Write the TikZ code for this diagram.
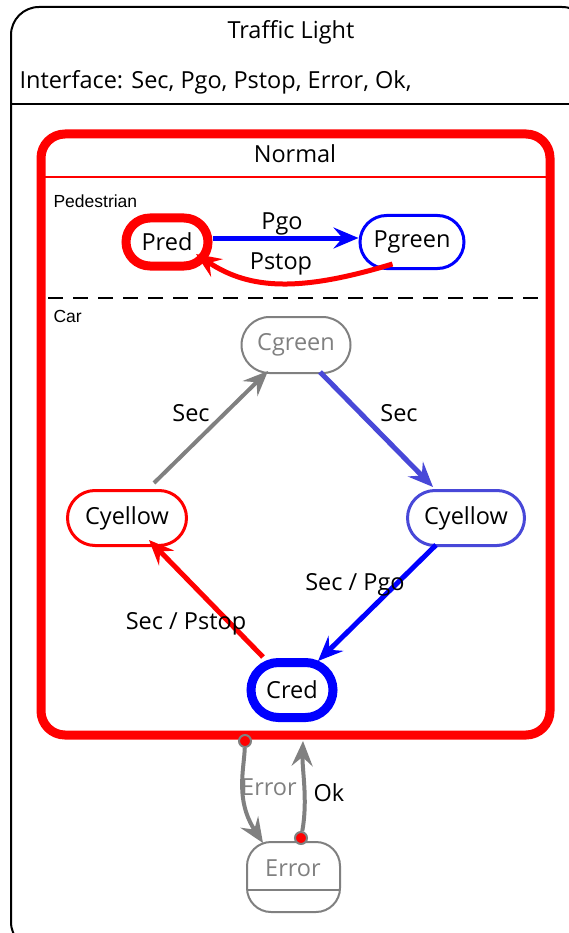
\documentclass[tikz,border=0pt]{standalone}
\usepackage{fontspec}
\setmainfont{Open Sans}
\newfontfamily\smallsans{Liberation Sans}
\usetikzlibrary{arrows.meta,shapes.misc}
\definecolor{redc}{RGB}{255,0,0}
\definecolor{bluec}{RGB}{0,0,255}
\definecolor{softblue}{RGB}{72,72,216}
\definecolor{grayc}{RGB}{128,128,128}
\tikzset{
  state/.style={rounded rectangle, draw, minimum height=50pt, inner xsep=4pt,
    font=\fontsize{23.5}{26}\selectfont, text=black, fill=white},
  trans/.style={-{Stealth[length=25pt,width=21pt,inset=9pt]}, line width=5pt},
  lbl/.style={font=\fontsize{23.5}{26}\selectfont, text=black},
  head/.style={font=\fontsize{23.5}{26}\selectfont},
  region/.style={font=\smallsans\fontsize{17.5}{20}\selectfont, anchor=west},
  pin/.style={circle, draw=grayc, fill=redc, line width=2pt, minimum size=12pt, inner sep=0pt}
}
\begin{document}
\begin{tikzpicture}[x=1pt,y=-1pt]
\useasboundingbox (0,0) rectangle (569,933);
\begin{scope}
\clip (0,0) rectangle (569,933);
% outer component frame
\draw[line width=2pt, rounded corners=28pt] (11,7) rectangle (590,950);
\end{scope}
\node[head] (title) at (291,32) {Traffic Light};
\node[head, anchor=west] (iface) at (16,82) {Interface: Sec, Pgo, Pstop, Error, Ok,};
\coordinate (hl) at (11,104);
\coordinate (hr) at (569,104);
\draw[line width=1.5pt] (hl) -- (hr);

% Normal super-state
\node[draw=redc, line width=9pt, rounded corners=24pt, minimum width=509pt, minimum height=601pt] (normal) at (295.5,434.5) {};
\node[head] (normaltitle) at (295,154) {Normal};
\coordinate (nl) at (45,177);
\coordinate (nr) at (546,177);
\draw[redc, line width=1.5pt] (nl) -- (nr);
\coordinate (dl) at (48,298);
\coordinate (dr) at (542,298);
\draw[line width=2pt, dash pattern=on 15pt off 10pt] (dl) -- (dr);

% Pedestrian region
\node[region] (ped) at (50,201) {Pedestrian};
\node[state, draw=redc, line width=9pt, minimum width=90pt, minimum height=48pt] (pred) at (167,242) {Pred};
\node[state, draw=bluec, line width=3pt, minimum width=112pt, minimum height=53pt] (pgreen) at (412,242) {Pgreen};
\draw[trans, bluec] (pred.east |- 0,238) -- (pgreen.west |- 0,238);
\node[lbl] (pgo) at (282,224) {Pgo};
\draw[trans, redc] (pgreen.south west) ++(6,-6) coordinate (ps) .. controls (300,292) and (250,290) .. (196,254);
\node[lbl] (pstop) at (281,264) {Pstop};

% Car region
\node[region] (car) at (50,316) {Car};
\node[state, draw=grayc, text=grayc, line width=2pt, minimum width=117pt, minimum height=56pt] (cgreen) at (296,345) {Cgreen};
\node[state, draw=redc, line width=3pt, minimum width=127pt, minimum height=55pt] (cyl) at (127,518) {Cyellow};
\node[state, draw=softblue, line width=3pt, minimum width=125pt, minimum height=55pt] (cyr) at (466,518) {Cyellow};
\node[state, draw=bluec, line width=9pt, minimum width=90pt, minimum height=55pt] (cred) at (292,690) {Cred};

\draw[trans, grayc, line width=4pt] (154,483) -- (268,371);
\node[lbl] (s1) at (191,413) {Sec};
\draw[trans, softblue] (320,372) -- (433,487);
\node[lbl] (s2) at (399,413) {Sec};
\draw[trans, bluec] (436,545) -- (318,661);
\node[lbl] (s3) at (355,585) {Sec / Pgo};
\draw[trans, redc] (263,657) -- (149,540);
\node[lbl] (s4) at (186,624) {Sec / Pstop};

% Error state
\node[draw=grayc, line width=2pt, rounded corners=24pt, minimum width=93pt, minimum height=70pt, fill=white] (err) at (293.5,877) {};
\node[font=\fontsize{23.5}{26}\selectfont, text=grayc] (errtxt) at (293,868) {Error};
\coordinate (el) at (248,890);
\coordinate (er) at (339,890);
\draw[grayc, line width=2pt] (el) -- (er);

\node[pin] (p1) at (245,741) {};
\node[pin] (p2) at (301,838) {};
\draw[trans, grayc, line width=4pt] (p1) .. controls (244,770) and (235,800) .. (263,843);
\node[font=\fontsize{23.5}{26}\selectfont, text=grayc] (errlbl) at (269,787) {Error};
\draw[trans, grayc, line width=4pt] (p2) .. controls (308,800) and (302,770) .. (303,741);
\node[lbl] (ok) at (329,793) {Ok};
\end{tikzpicture}
\end{document}
